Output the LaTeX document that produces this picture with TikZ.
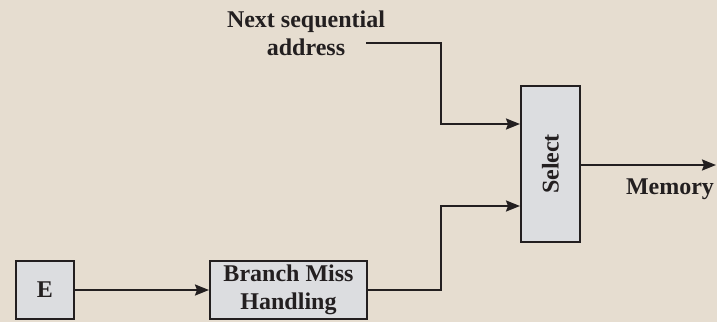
\documentclass[tikz,border=0pt]{standalone}
\usepackage{fontspec}
\setmainfont{Liberation Serif}
\usetikzlibrary{arrows.meta,positioning}
\definecolor{paper}{HTML}{E6DDD0}
\definecolor{boxfill}{HTML}{DCDDE0}
\definecolor{ink}{HTML}{231F20}
\begin{document}
\begin{tikzpicture}[x=1pt,y=-1pt,
  every node/.style={font=\fontsize{24}{28}\selectfont\bfseries, text=ink},
  blockbox/.style={draw=ink, line width=2pt, fill=boxfill, inner sep=0pt, align=center},
  wire/.style={draw=ink, line width=2pt},
  flow/.style={wire, -{Stealth[length=14pt,width=11pt,inset=2pt]}}]
  \fill[paper] (0,0) rectangle (717,322);
  \useasboundingbox (0,0) rectangle (717,322);

  % blocks
  \node[blockbox, minimum width=58pt, minimum height=58pt] (e) at (45,290) {E};
  \node[blockbox, minimum width=157pt, minimum height=58pt] (bmh) at (288.5,290) {Branch Miss\\Handling};
  \node[blockbox, minimum width=59pt, minimum height=156pt] (sel) at (550.5,164) {\rotatebox{90}{Select}};

  % labels
  \node[align=center] (nsa) at (306,33) {Next sequential\\address};
  \node (memlbl) at (670,189) {Memory};
  \coordinate (nsaend) at (366,43);
  \coordinate (memout) at (716,165);

  % connectors
  \draw[flow] (e.east) -- (bmh.west);
  \draw[flow] (nsaend) -| (441,124) -- (sel.west |- 0,124);
  \draw[flow] (bmh.east) -| (441,206) -- (sel.west |- 0,206);
  \draw[flow] (sel.east |- memout) -- (memout);
\end{tikzpicture}
\end{document}
